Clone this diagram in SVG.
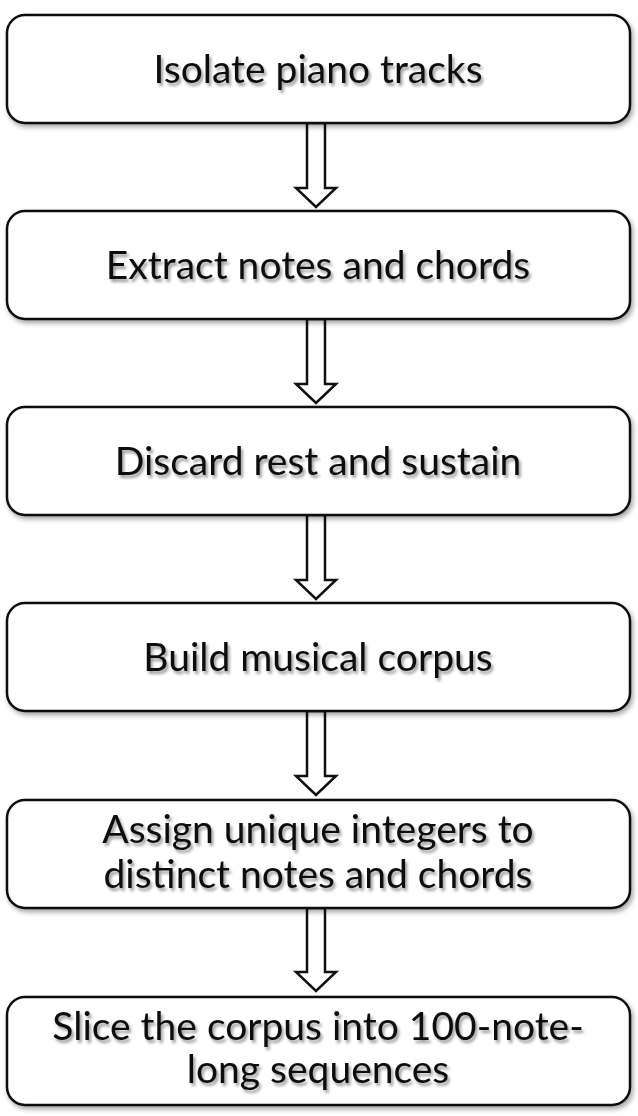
<svg xmlns="http://www.w3.org/2000/svg" width="638" height="1116" viewBox="0 0 638 1116">
<defs>
<filter id="sh" x="-10%" y="-10%" width="120%" height="130%">
<feGaussianBlur in="SourceAlpha" stdDeviation="2.5"/>
<feOffset dx="2" dy="3" result="b"/>
<feComponentTransfer><feFuncA type="linear" slope="0.35"/></feComponentTransfer>
<feMerge><feMergeNode/><feMergeNode in="SourceGraphic"/></feMerge>
</filter>
<filter id="tsh" x="-10%" y="-30%" width="120%" height="160%">
<feGaussianBlur in="SourceAlpha" stdDeviation="1.5"/>
<feOffset dx="2" dy="3"/>
<feComponentTransfer><feFuncA type="linear" slope="0.4"/></feComponentTransfer>
<feMerge><feMergeNode/><feMergeNode in="SourceGraphic"/></feMerge>
</filter>
</defs>
<style>
.box{fill:#fff;stroke:#111;stroke-width:2.5}
.t{font-family:Lato,"Open Sans","Liberation Sans",sans-serif;font-size:39px;fill:#111;text-anchor:middle}
.ar{fill:#fff;stroke:#111;stroke-width:2.5;stroke-linejoin:miter}
</style>
<rect width="638" height="1116" fill="#fff"/>
<g id="connectors">
<path class="ar" d="M307,123 V188 H296 L316,207 L336,188 H325 V123 Z"/>
<path class="ar" d="M307,319 V384 H296 L316,403 L336,384 H325 V319 Z"/>
<path class="ar" d="M307,515 V580 H296 L316,599 L336,580 H325 V515 Z"/>
<path class="ar" d="M307,711 V776 H296 L316,795 L336,776 H325 V711 Z"/>
<path class="ar" d="M307,908 V972 H296 L316,991 L336,972 H325 V908 Z"/>
</g>
<g id="n1"><rect class="box" filter="url(#sh)" x="7" y="15" width="623" height="108" rx="18"/><text class="t" filter="url(#tsh)" x="318" y="83">Isolate piano tracks</text></g>
<g id="n2"><rect class="box" filter="url(#sh)" x="7" y="211" width="623" height="108" rx="18"/><text class="t" filter="url(#tsh)" x="318" y="279">Extract notes and chords</text></g>
<g id="n3"><rect class="box" filter="url(#sh)" x="7" y="407" width="623" height="108" rx="18"/><text class="t" filter="url(#tsh)" x="318" y="475">Discard rest and sustain</text></g>
<g id="n4"><rect class="box" filter="url(#sh)" x="7" y="603" width="623" height="108" rx="18"/><text class="t" filter="url(#tsh)" x="318" y="671">Build musical corpus</text></g>
<g id="n5"><rect class="box" filter="url(#sh)" x="7" y="800" width="623" height="108" rx="18"/><text class="t" filter="url(#tsh)" x="318" y="843">Assign unique integers to</text><text class="t" filter="url(#tsh)" x="318" y="888">distinct notes and chords</text></g>
<g id="n6"><rect class="box" filter="url(#sh)" x="7" y="997" width="623" height="108" rx="18"/><text class="t" filter="url(#tsh)" x="318" y="1040">Slice the corpus into 100-note-</text><text class="t" filter="url(#tsh)" x="318" y="1083">long sequences</text></g>
</svg>
